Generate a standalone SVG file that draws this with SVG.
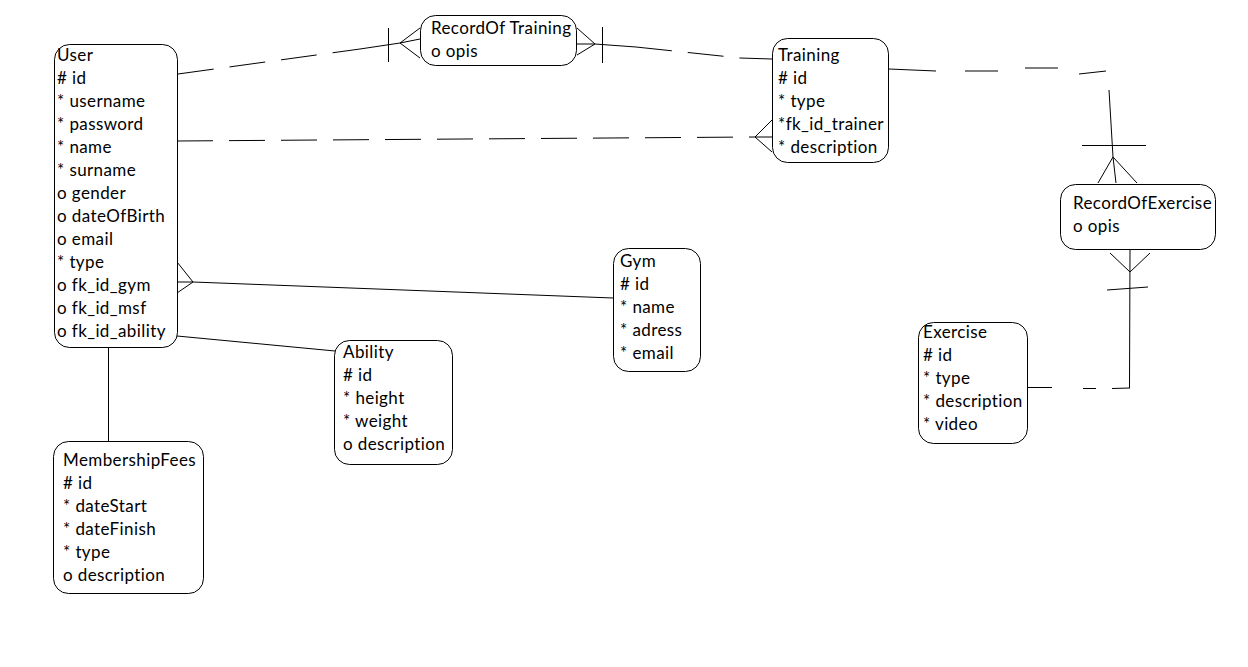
<svg xmlns="http://www.w3.org/2000/svg" width="1248" height="667" viewBox="0 0 1248 667">
<style>
  .box { fill: #fff; stroke: #000; stroke-width: 1; }
  .t { font-family: Lato, "Open Sans", "Liberation Sans", sans-serif; font-size: 17px; letter-spacing: 0.4px; fill: #000; }
  .ln { fill: none; stroke: #000; stroke-width: 1; }
  .dash { fill: none; stroke: #000; stroke-width: 1; stroke-dasharray: 36 16; }
</style>
<rect width="1248" height="667" fill="#fff"/>

<!-- relationships -->
<g id="connectors">
  <!-- User - RecordOf Training -->
  <path class="dash" d="M178,74 L360,49"/>
  <path class="ln" d="M360,49 L400,43"/>
  <path class="ln" d="M388.5,28 L388.5,62"/>
  <path class="ln" d="M400,43 L420,28 M400,43 L420,39 M400,43 L420,58"/>
  <!-- RecordOf Training - Training -->
  <path class="ln" d="M577,28 L595,44 M577,44 L595,44 M577,55 L595,44"/>
  <path class="ln" d="M602.5,27 L602.5,63"/>
  <path class="ln" d="M595,44 L636,47"/>
  <path class="dash" d="M636,47 L740,58"/>
  <path class="ln" d="M740,58 L772,59"/>
  <!-- User - Training -->
  <path class="dash" d="M177,141 L755,137"/>
  <path class="ln" d="M755,137 L772,120 M755,137 L772,137 M755,137 L772,152"/>
  <!-- Training - RecordOfExercise -->
  <path class="ln" d="M889,69 L936,71 M965,71 L998,71 M1025,68 L1058,68 M1079,74 L1106,71"/>
  <path class="ln" d="M1109,90 L1113,157"/>
  <path class="ln" d="M1082,145.5 L1146,145.5"/>
  <path class="ln" d="M1113,157 L1098,183 M1113,157 L1116,183 M1113,157 L1137,183"/>
  <!-- RecordOfExercise - Exercise -->
  <path class="ln" d="M1130,250 L1129.5,388"/>
  <path class="ln" d="M1110,253 L1130,272 L1150,253"/>
  <path class="ln" d="M1107,290 L1148,287"/>
  <path class="ln" d="M1028,387.5 L1052,387.5 M1083,388.5 L1096,388.5 M1112,388.5 L1130,388"/>
  <!-- User - Gym -->
  <path class="ln" d="M193,282 L613,298"/>
  <path class="ln" d="M193,282 L177,262 M193,282 L177,282 M193,282 L177,293"/>
  <!-- User - Ability -->
  <path class="ln" d="M177,336 L335,351"/>
  <!-- User - MembershipFees -->
  <path class="ln" d="M108.5,347 L108.5,441"/>
</g>

<g id="user">
  <rect class="box" x="54.5" y="44.5" width="123" height="303" rx="15"/>
  <text class="t" x="57" y="61">User</text>
  <text class="t" x="57" y="84"># id</text>
  <text class="t" x="57" y="107">* username</text>
  <text class="t" x="57" y="130">* password</text>
  <text class="t" x="57" y="153">* name</text>
  <text class="t" x="57" y="176">* surname</text>
  <text class="t" x="57" y="199">o gender</text>
  <text class="t" x="57" y="222">o dateOfBirth</text>
  <text class="t" x="57" y="245">o email</text>
  <text class="t" x="57" y="268">* type</text>
  <text class="t" x="57" y="291">o fk_id_gym</text>
  <text class="t" x="57" y="314">o fk_id_msf</text>
  <text class="t" x="57" y="337">o fk_id_ability</text>
</g>

<g id="record-of-training">
  <rect class="box" x="420.5" y="15.5" width="156" height="50" rx="15"/>
  <text class="t" x="431" y="34">RecordOf Training</text>
  <text class="t" x="431" y="57">o opis</text>
</g>

<g id="training">
  <rect class="box" x="772.5" y="38.5" width="116" height="124" rx="15"/>
  <text class="t" x="778" y="61">Training</text>
  <text class="t" x="778" y="84"># id</text>
  <text class="t" x="778" y="107">* type</text>
  <text class="t" x="778" y="130">*fk_id_trainer</text>
  <text class="t" x="778" y="153">* description</text>
</g>

<g id="record-of-exercise">
  <rect class="box" x="1060.5" y="184.5" width="155" height="65" rx="15"/>
  <text class="t" x="1073" y="209">RecordOfExercise</text>
  <text class="t" x="1073" y="232">o opis</text>
</g>

<g id="gym">
  <rect class="box" x="613.5" y="248.5" width="87" height="123" rx="15"/>
  <text class="t" x="620" y="267">Gym</text>
  <text class="t" x="620" y="290"># id</text>
  <text class="t" x="620" y="313">* name</text>
  <text class="t" x="620" y="336">* adress</text>
  <text class="t" x="620" y="359">* email</text>
</g>

<g id="ability">
  <rect class="box" x="334.5" y="340.5" width="118" height="124" rx="15"/>
  <text class="t" x="343" y="358">Ability</text>
  <text class="t" x="343" y="381"># id</text>
  <text class="t" x="343" y="404">* height</text>
  <text class="t" x="343" y="427">* weight</text>
  <text class="t" x="343" y="450">o description</text>
</g>

<g id="exercise">
  <rect class="box" x="918.5" y="322.5" width="109" height="121" rx="15"/>
  <text class="t" x="923" y="338">Exercise</text>
  <text class="t" x="923" y="361"># id</text>
  <text class="t" x="923" y="384">* type</text>
  <text class="t" x="923" y="407">* description</text>
  <text class="t" x="923" y="430">* video</text>
</g>

<g id="membership-fees">
  <rect class="box" x="53.5" y="441.5" width="150" height="152" rx="15"/>
  <text class="t" x="63" y="466">MembershipFees</text>
  <text class="t" x="63" y="489"># id</text>
  <text class="t" x="63" y="512">* dateStart</text>
  <text class="t" x="63" y="535">* dateFinish</text>
  <text class="t" x="63" y="558">* type</text>
  <text class="t" x="63" y="581">o description</text>
</g>
</svg>
